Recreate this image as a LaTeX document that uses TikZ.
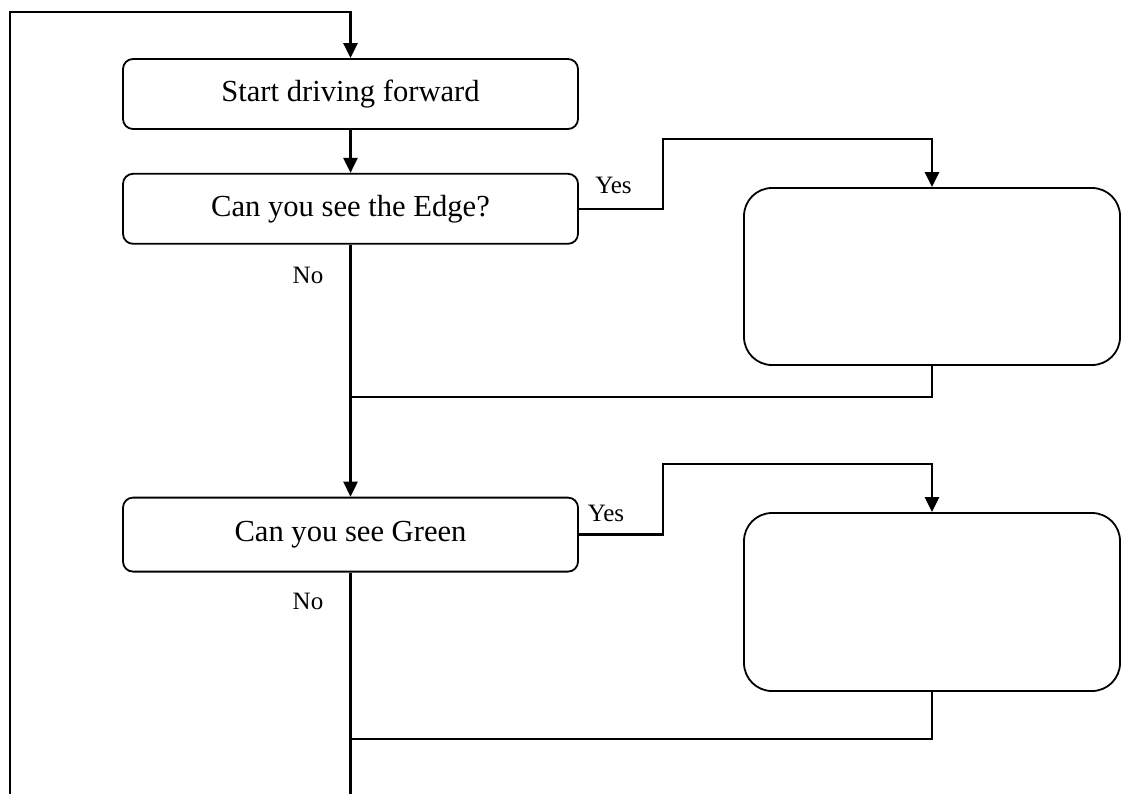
\documentclass[tikz,border=0pt]{standalone}
\usepackage{fontspec}
\setmainfont{Liberation Serif}
\usetikzlibrary{calc,arrows.meta,positioning}

\begin{document}
\begin{tikzpicture}[x=0.5pt,y=-0.5pt]

\tikzset{stepnode/.style={draw,rounded corners=5pt,line width=0.9pt,minimum width=227.5pt,minimum height=35pt,inner sep=0pt,font=\fontsize{15.3}{18}\selectfont},
actnode/.style={draw,rounded corners=14pt,line width=0.9pt,minimum width=188pt,minimum height=88.5pt,inner sep=0pt},
flow/.style={line width=1.3pt,-{Triangle[length=7.5pt,width=7pt]}},
joint/.style={line width=0.95pt},
answer/.style={font=\fontsize{12.5}{15}\selectfont,inner sep=0pt}}

% Frame
\useasboundingbox (0,0) rectangle (1122,794);

% Question boxes
\node[stepnode] (start) at (350.5,94) {Start driving forward};
\node[stepnode,below=21.5pt of start] (edge) {Can you see the Edge?};
\node[stepnode,below=126pt of edge,minimum height=37pt] (green) {Can you see Green};

% Empty action boxes
\node[actnode] (edgeAct) at (932,276.5) {};
\node[actnode,minimum height=89pt] (greenAct) at (932,602) {};

% Answers
\node[answer] (yesA) at (613.5,185) {Yes};
\node[answer] (noA) at (308,275) {No};
\node[answer] (yesB) at (606,513) {Yes};
\node[answer] (noB) at (308,601) {No};

% Loop back and join points
\coordinate (loopTop) at (10,12);
\coordinate (loopBot) at (10,794);
\coordinate (joinA) at (350.5,397);
\coordinate (joinB) at (350.5,739);
\coordinate (mainBot) at (350.5,794);

% Edges
\draw[flow] (loopBot) -- (loopTop) -| (start.north);
\draw[flow] (start) -- (edge);
\draw[flow] (edge.east) -- ++(84,0) |- ($(edgeAct.north)+(0,-48)$) -- (edgeAct.north);
\draw[joint] (edgeAct.south) |- (joinA);
\draw[flow] (edge) -- (green);
\draw[flow] (green.east) -- ++(84,0) |- ($(greenAct.north)+(0,-48)$) -- (greenAct.north);
\draw[joint] (greenAct.south) |- (joinB);
\draw[line width=1.3pt] (green.south) -- (mainBot);

\end{tikzpicture}
\end{document}
